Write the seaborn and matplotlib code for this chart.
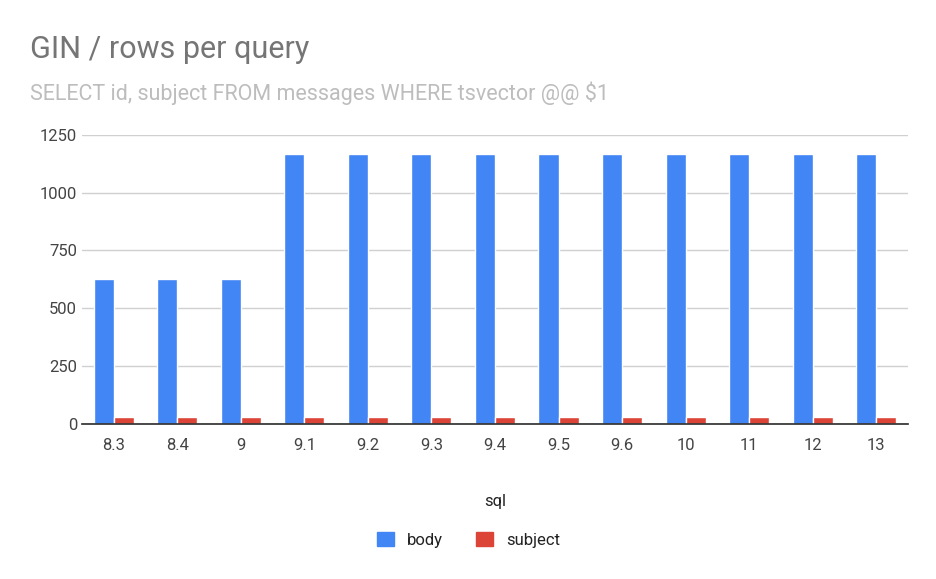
import pandas as pd
import matplotlib.pyplot as plt
import seaborn as sns
from matplotlib.patches import Patch

versions = ['8.3', '8.4', '9', '9.1', '9.2', '9.3', '9.4', '9.5', '9.6', '10', '11', '12', '13']
body = [625, 625, 625, 1168, 1168, 1168, 1168, 1168, 1168, 1168, 1168, 1168, 1168]
subject = [28, 28, 28, 28, 28, 28, 28, 28, 28, 28, 28, 28, 28]

df = pd.DataFrame({'sql': versions * 2,
                   'rows': body + subject,
                   'series': ['body'] * len(versions) + ['subject'] * len(versions)})

sns.set_theme(style='whitegrid')
plt.rcParams['font.family'] = ['Roboto', 'DejaVu Sans']

fig = plt.figure(figsize=(9.37, 5.79), dpi=100)
ax = fig.add_axes([0.0875, 0.268, 0.8815, 0.499])
sns.barplot(data=df, x='sql', y='rows', hue='series', order=versions,
            palette={'body': '#4285F4', 'subject': '#DB4437'},
            width=0.63, saturation=1, ax=ax, legend=False)

ax.set_ylim(0, 1250)
ax.set_yticks([0, 250, 500, 750, 1000, 1250])
ax.set_xlim(-0.5, len(versions) - 0.5)
ax.grid(axis='y', color='#d0d0d0', linewidth=1)
ax.grid(axis='x', visible=False)
ax.set_facecolor('white')
for s in ['top', 'right', 'left']:
    ax.spines[s].set_visible(False)
ax.spines['bottom'].set_color('#333333')
ax.tick_params(axis='both', colors='#444444', labelsize=12, length=0)
ax.tick_params(axis='x', pad=10)
ax.set_ylabel('')
ax.set_xlabel('sql', fontsize=12, color='#222222', labelpad=30)

fig.text(0.032, 0.9, 'GIN / rows per query', fontsize=22, color='#757575')
fig.text(0.032, 0.827, 'SELECT id, subject FROM messages WHERE tsvector @@ $1',
         fontsize=15.5, color='#bdbdbd')

handles = [Patch(color='#4285F4', label='body'), Patch(color='#DB4437', label='subject')]
fig.legend(handles=handles, loc='center', bbox_to_anchor=(0.5, 0.068), ncol=2,
           frameon=False, fontsize=12, handlelength=1, handleheight=1,
           columnspacing=2, labelcolor='#222222')

fig.savefig('out.png', dpi=100)
